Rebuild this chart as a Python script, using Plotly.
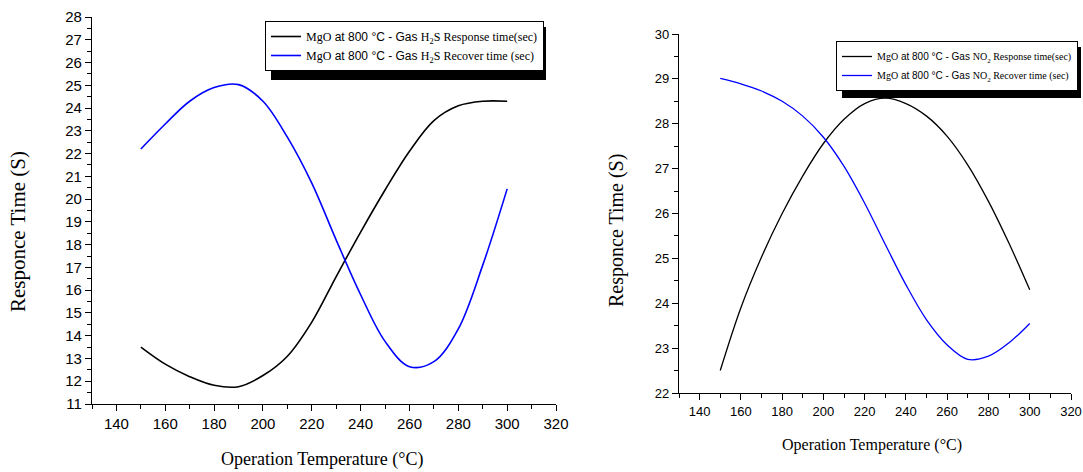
import plotly.graph_objects as go

# H2S panel (left)
h2s_x = [150, 160, 170, 180, 190, 200, 210, 220, 230, 240, 250, 260, 270, 280, 290, 300]
h2s_resp = [13.5, 12.75, 12.2, 11.82, 11.76, 12.25, 13.1, 14.6, 16.6, 18.55, 20.4, 22.1, 23.45, 24.1, 24.3, 24.3]
h2s_rec = [22.2, 23.3, 24.3, 24.9, 25.03, 24.3, 22.72, 20.7, 18.2, 15.8, 13.75, 12.64, 12.86, 14.3, 17.1, 20.45]

# NO2 panel (right)
no2_x = [150, 160, 170, 180, 190, 200, 210, 220, 230, 240, 250, 260, 270, 280, 290, 300]
no2_resp = [22.5, 23.9, 25.03, 26.0, 26.84, 27.56, 28.1, 28.45, 28.57, 28.45, 28.17, 27.72, 27.08, 26.27, 25.33, 24.3]
no2_rec = [29.01, 28.89, 28.73, 28.5, 28.17, 27.7, 27.05, 26.23, 25.31, 24.41, 23.63, 23.07, 22.75, 22.82, 23.12, 23.55]

SERIF = "Liberation Serif"
SANS = "Liberation Sans"
W, H = 1083, 472


def lbl(gas, kind):
    return (f"<span style='font-family:{SERIF}'>MgO</span> at 800 °C - Gas "
            f"<span style='font-family:{SERIF}'>{gas} {kind}</span>")


fig = go.Figure()
spl = dict(shape="spline", smoothing=1.0)
fig.add_trace(go.Scatter(x=h2s_x, y=h2s_resp, mode="lines", line=dict(color="black", width=1.6, **spl),
                         name=lbl("H<sub>2</sub>S", "Response time(sec)"), xaxis="x", yaxis="y", legend="legend"))
fig.add_trace(go.Scatter(x=h2s_x, y=h2s_rec, mode="lines", line=dict(color="#0000ff", width=1.6, **spl),
                         name=lbl("H<sub>2</sub>S", "Recover time (sec)"), xaxis="x", yaxis="y", legend="legend"))
fig.add_trace(go.Scatter(x=no2_x, y=no2_resp, mode="lines", line=dict(color="black", width=1.3, **spl),
                         name=lbl("NO<sub>2</sub>", "Response time(sec)"), xaxis="x2", yaxis="y2", legend="legend2"))
fig.add_trace(go.Scatter(x=no2_x, y=no2_rec, mode="lines", line=dict(color="#0000ff", width=1.3, **spl),
                         name=lbl("NO<sub>2</sub>", "Recover time (sec)"), xaxis="x2", yaxis="y2", legend="legend2"))

common = dict(showline=True, linecolor="black", linewidth=1.3, ticks="outside", ticklen=6, tickwidth=1.2,
              tickcolor="black", showgrid=False, zeroline=False, mirror=False, automargin=False)
minor = dict(ticks="outside", ticklen=4, tickcolor="black", tickwidth=1, showgrid=False)

fig.update_layout(
    width=W, height=H,
    paper_bgcolor="white", plot_bgcolor="white",
    margin=dict(l=0, r=0, t=0, b=0),
    font=dict(family=SANS, color="black"),
    xaxis=dict(domain=[92 / W, 556 / W], range=[130, 320], anchor="y", dtick=20, tick0=0,
               minor=dict(dtick=10, **minor), tickfont=dict(size=15), **common),
    yaxis=dict(domain=[1 - 404 / H, 1 - 17 / H], range=[11, 28], anchor="x", dtick=1,
               minor=dict(dtick=0.5, **minor), tickfont=dict(size=15), **common),
    xaxis2=dict(domain=[679 / W, 1071 / W], range=[130, 320], anchor="y2", dtick=20, tick0=0,
                minor=dict(dtick=10, **minor), tickfont=dict(size=13), **common),
    yaxis2=dict(domain=[1 - 393 / H, 1 - 34 / H], range=[22, 30], anchor="x2", dtick=1,
                minor=dict(dtick=0.5, **minor), tickfont=dict(size=13), **common),
    legend=dict(x=265 / W, y=1 - 21 / H, xanchor="left", yanchor="top", bgcolor="white", bordercolor="black",
                borderwidth=1, font=dict(size=12, family=SANS), itemwidth=30, tracegroupgap=0),
    legend2=dict(x=836 / W, y=1 - 41 / H, xanchor="left", yanchor="top", bgcolor="white", bordercolor="black",
                 borderwidth=1, font=dict(size=10, family=SANS), itemwidth=30, tracegroupgap=0),
    showlegend=True,
)

# axis titles
title_font = dict(family=SERIF, color="black")
ann = dict(xref="paper", yref="paper", showarrow=False, xanchor="center", yanchor="middle")
fig.add_annotation(text="Operation Temperature (°C)", x=322 / W, y=1 - 459 / H,
                   font=dict(size=18, **title_font), **ann)
fig.add_annotation(text="Responce Time (S)", x=18 / W, y=1 - 232 / H, textangle=-90,
                   font=dict(size=21, **title_font), **ann)
fig.add_annotation(text="Operation Temperature (°C)", x=872 / W, y=1 - 445 / H,
                   font=dict(size=16, **title_font), **ann)
fig.add_annotation(text="Responce Time (S)", x=617 / W, y=1 - 231 / H, textangle=-90,
                   font=dict(size=20, **title_font), **ann)

# legend drop shadows
fig.add_shape(type="rect", xref="paper", yref="paper", x0=271 / W, x1=546 / W, y0=1 - 80 / H, y1=1 - 27 / H,
              fillcolor="black", line_width=0, layer="above")
fig.add_shape(type="rect", xref="paper", yref="paper", x0=842 / W, x1=1081 / W, y0=1 - 98 / H, y1=1 - 47 / H,
              fillcolor="black", line_width=0, layer="above")

# page body has a default 8px margin; drop it so the figure sits at the window origin
fig.write_html("out.html", config={"displayModeBar": False},
               post_script="document.body.style.margin='0';")
